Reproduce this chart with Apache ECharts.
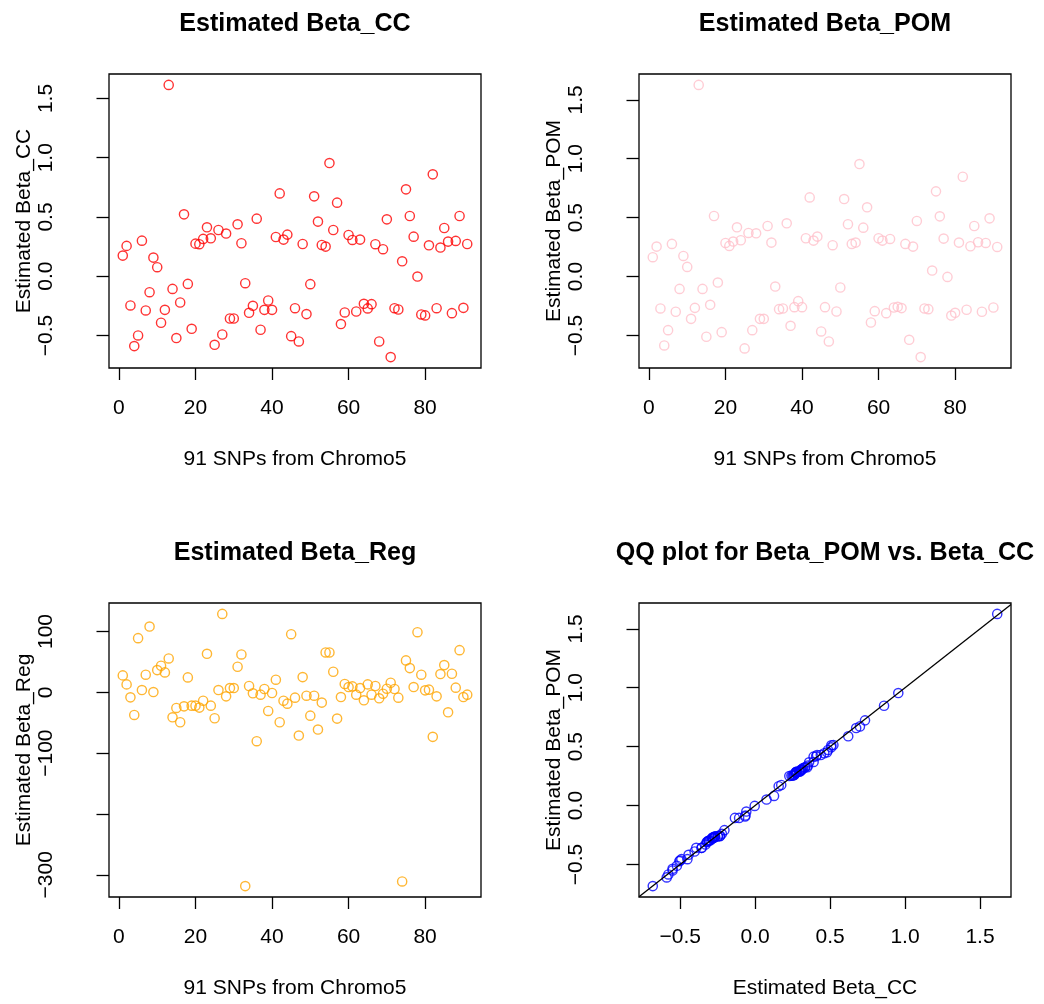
<!DOCTYPE html>
<html>
<head>
<meta charset="utf-8">
<script src="https://cdn.jsdelivr.net/npm/echarts@6/dist/echarts.min.js"></script>
<style>
  html, body { margin: 0; padding: 0; background: #fff; }
  #chart { width: 1044px; height: 1004px; }
</style>
</head>
<body>
<div id="chart"></div>
<script>
// Per-SNP effect estimates, SNPs 1..91 on chromosome 5
const betaCC = [
  0.174, 0.256, -0.247, -0.590, -0.500, 0.300, -0.289, -0.135, 0.157, 0.076,
  -0.393, -0.284, 1.615, -0.107, -0.522, -0.222, 0.522, -0.065, -0.444, 0.275,
  0.270, 0.315, 0.413, 0.320, -0.579, 0.390, -0.492, 0.360, -0.357, -0.357,
  0.438, 0.278, -0.059, -0.309, -0.250, 0.486, -0.452, -0.284, -0.205, -0.284,
  0.331, 0.699, 0.309, 0.351, -0.506, -0.270, -0.551, 0.272, -0.320, -0.067,
  0.674, 0.461, 0.264, 0.250, 0.955, 0.390, 0.621, -0.404, -0.306, 0.348,
  0.306, -0.298, 0.309, -0.233, -0.272, -0.236, 0.270, -0.551, 0.228, 0.480,
  -0.683, -0.270, -0.281, 0.126, 0.733, 0.508, 0.334, -0.003, -0.323, -0.331,
  0.261, 0.860, -0.270, 0.242, 0.407, 0.292, -0.312, 0.298, 0.508, -0.267,
  0.272
];
const betaPOM = [
  0.164, 0.254, -0.271, -0.585, -0.455, 0.277, -0.299, -0.105, 0.175, 0.082,
  -0.359, -0.266, 1.627, -0.105, -0.511, -0.240, 0.514, -0.051, -0.472, 0.285,
  0.260, 0.297, 0.418, 0.308, -0.610, 0.370, -0.455, 0.367, -0.359, -0.359,
  0.429, 0.288, -0.085, -0.277, -0.271, 0.452, -0.418, -0.260, -0.209, -0.260,
  0.325, 0.672, 0.305, 0.339, -0.466, -0.260, -0.551, 0.266, -0.297, -0.093,
  0.658, 0.444, 0.277, 0.288, 0.955, 0.415, 0.588, -0.390, -0.294, 0.325,
  0.305, -0.311, 0.319, -0.263, -0.257, -0.268, 0.277, -0.537, 0.254, 0.472,
  -0.684, -0.271, -0.277, 0.051, 0.723, 0.511, 0.322, -0.003, -0.331, -0.308,
  0.288, 0.847, -0.282, 0.257, 0.429, 0.291, -0.299, 0.285, 0.494, -0.263,
  0.251
];
const betaReg = [
  27.9, 13.1, -8.2, -37.2, 89.1, 3.8, 29.0, 108.2, 0.5, 36.6,
  43.7, 32.8, 55.7, -41.0, -25.7, -49.2, -23.0, 24.6, -21.9, -21.9,
  -25.1, -13.7, 63.4, -21.9, -42.6, 3.8, 129.0, -6.6, 7.1, 7.1,
  42.1, 62.3, -318.6, 10.4, -1.6, -80.3, -3.8, 5.5, -30.6, -1.1,
  20.8, -49.2, -13.7, -18.6, 95.6, -8.7, -71.0, 25.1, -5.5, -38.3,
  -5.5, -61.2, -16.9, 65.6, 65.6, 33.9, -43.2, -7.7, 13.7, 8.7,
  9.8, -3.8, 7.1, -13.1, 13.1, -3.8, 10.4, -9.8, -2.2, 6.0,
  15.8, 5.5, -8.7, -310.9, 52.5, 39.9, 8.7, 98.9, 29.0, 3.3,
  4.4, -73.2, -6.6, 30.1, 44.8, -32.8, 30.6, 7.7, 69.4, -7.7,
  -3.8
];

// Tick positions and labels
const indexTicks = [0, 20, 40, 60, 80];
const betaTicks = [-0.5, 0.0, 0.5, 1.0, 1.5];
const regTicks = [-300, -200, -100, 0, 100];
const regTickLabels = [-300, -100, 0, 100];

const titles = ['Estimated Beta_CC', 'Estimated Beta_POM', 'Estimated Beta_Reg', 'QQ plot for Beta_POM vs. Beta_CC'];
const xNames = ['91 SNPs from Chromo5', '91 SNPs from Chromo5', '91 SNPs from Chromo5', 'Estimated Beta_CC'];
const yNames = ['Estimated Beta_CC', 'Estimated Beta_POM', 'Estimated Beta_Reg', 'Estimated Beta_POM'];

const FONT = '"Liberation Sans", Arial, Helvetica, sans-serif';

// Data range padded by 4% on each side, like base R plotting
function padRange(v) {
  const lo = Math.min(...v), hi = Math.max(...v), d = (hi - lo) * 0.04;
  return [lo - d, hi + d];
}
const fmt1 = v => (v < 0 ? '\u2212' : '') + Math.abs(v).toFixed(1);
const fmt0 = v => (v < 0 ? '\u2212' : '') + Math.abs(v);

const snpIndex = betaCC.map((_, i) => i + 1);
const ccSorted = betaCC.slice().sort((a, b) => a - b);
const pomSorted = betaPOM.slice().sort((a, b) => a - b);

// Panel layout (pixels)
const PW = 372, PH = 294;
const panels = [
  { left: 109, top: 74 },
  { left: 639, top: 74 },
  { left: 109, top: 603 },
  { left: 639, top: 603 }
];

const textBase = { color: '#000', fontFamily: FONT, fontSize: 21 };

function makeX(gi, lim, ticks, labels, fmt) {
  return {
    type: 'value', gridIndex: gi, min: lim[0], max: lim[1],
    name: xNames[gi], nameLocation: 'middle', nameGap: 81,
    nameTextStyle: textBase,
    axisLine: { show: false, onZero: false },
    splitLine: { show: false },
    axisTick: { show: true, length: 12, lineStyle: { color: '#000', width: 1.3 }, customValues: ticks },
    axisLabel: Object.assign({ customValues: labels, formatter: fmt, margin: 30 }, textBase)
  };
}
function makeY(gi, lim, ticks, labels, fmt) {
  return {
    type: 'value', gridIndex: gi, min: lim[0], max: lim[1],
    name: yNames[gi], nameLocation: 'middle', nameGap: 73,
    nameTextStyle: textBase,
    axisLine: { show: false, onZero: false },
    splitLine: { show: false },
    axisTick: { show: true, length: 12.5, lineStyle: { color: '#000', width: 1.3 }, customValues: ticks },
    axisLabel: Object.assign({ customValues: labels, formatter: fmt, margin: 52, rotate: 90 }, textBase)
  };
}

const idxLim = padRange(snpIndex);
const ccLim = padRange(betaCC);
const pomLim = padRange(betaPOM);
const regLim = padRange(betaReg);

function hollow(color) {
  return {
    symbol: 'circle', symbolSize: 9.2,
    itemStyle: { color: 'rgba(0,0,0,0)', borderColor: color, borderWidth: 1.4 }
  };
}

const option = {
  animation: false,
  backgroundColor: '#fff',
  title: panels.map((p, i) => ({
    text: titles[i],
    left: p.left + PW / 2 - 5, top: p.top - 67,
    textAlign: 'center',
    textStyle: { color: '#000', fontFamily: FONT, fontSize: 25.1, fontWeight: 'bold' }
  })),
  grid: panels.map(p => ({
    left: p.left, top: p.top, width: PW, height: PH,
    show: true, borderColor: '#000', borderWidth: 1.3, backgroundColor: 'transparent',
    containLabel: false
  })),
  xAxis: [
    makeX(0, idxLim, indexTicks, indexTicks, fmt0),
    makeX(1, idxLim, indexTicks, indexTicks, fmt0),
    makeX(2, idxLim, indexTicks, indexTicks, fmt0),
    makeX(3, ccLim, betaTicks, betaTicks, fmt1)
  ],
  yAxis: [
    makeY(0, ccLim, betaTicks, betaTicks, fmt1),
    makeY(1, pomLim, betaTicks, betaTicks, fmt1),
    makeY(2, regLim, regTicks, regTickLabels, fmt0),
    makeY(3, pomLim, betaTicks, betaTicks, fmt1)
  ],
  series: [
    Object.assign({ type: 'scatter', xAxisIndex: 0, yAxisIndex: 0,
      data: snpIndex.map((x, i) => [x, betaCC[i]]) }, hollow('#FF0000')),
    Object.assign({ type: 'scatter', xAxisIndex: 1, yAxisIndex: 1,
      data: snpIndex.map((x, i) => [x, betaPOM[i]]) }, hollow('#FFC0CB')),
    Object.assign({ type: 'scatter', xAxisIndex: 2, yAxisIndex: 2,
      data: snpIndex.map((x, i) => [x, betaReg[i]]) }, hollow('#FFA500')),
    Object.assign({ type: 'scatter', xAxisIndex: 3, yAxisIndex: 3,
      data: ccSorted.map((x, i) => [x, pomSorted[i]]) }, hollow('#0000FF')),
    {
      // identity reference line y = x
      type: 'line', xAxisIndex: 3, yAxisIndex: 3, clip: true,
      showSymbol: false, silent: true,
      data: [[ccLim[0], ccLim[0]], [ccLim[1], ccLim[1]]],
      lineStyle: { color: '#000', width: 1.3 }
    }
  ]
};

const chart = echarts.init(document.getElementById('chart'), null, { renderer: 'canvas' });
chart.setOption(option);
</script>
</body>
</html>
